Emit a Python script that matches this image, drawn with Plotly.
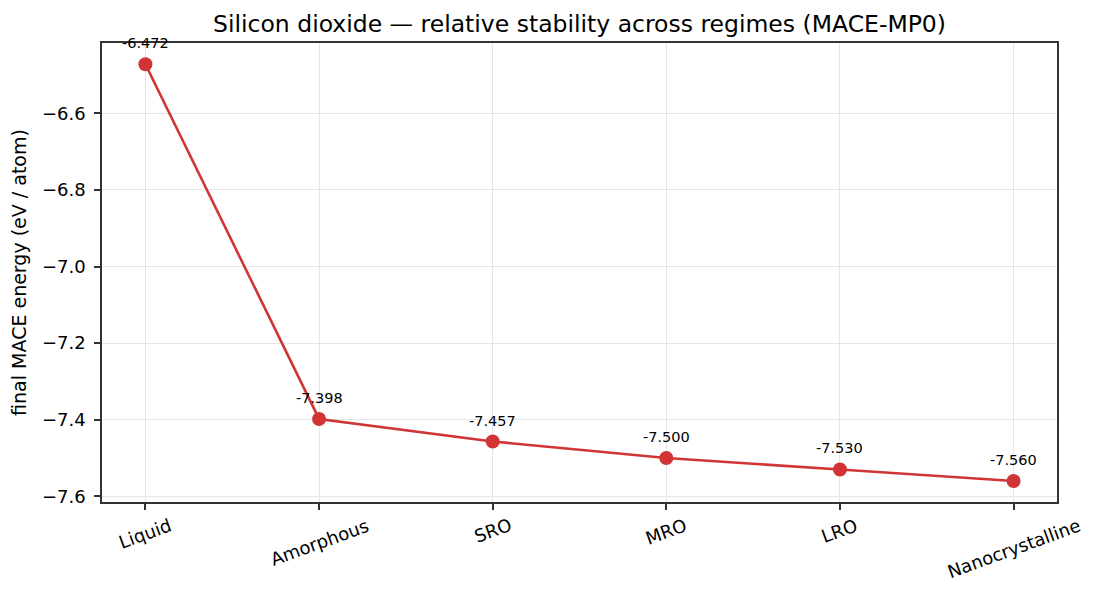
import plotly.graph_objects as go

categories = ["Liquid", "Amorphous", "SRO", "MRO", "LRO", "Nanocrystalline"]
energies = [-6.472, -7.398, -7.457, -7.500, -7.530, -7.560]
y_ticks = [-6.6, -6.8, -7.0, -7.2, -7.4, -7.6]

RED = "#d03434"
FONT = "DejaVu Sans, Liberation Sans, sans-serif"

x_idx = list(range(len(categories)))

fig = go.Figure()
fig.add_trace(go.Scatter(
    x=x_idx, y=energies, mode="lines+markers",
    line=dict(color=RED, width=2.6),
    marker=dict(color=RED, size=14),
    showlegend=False, hoverinfo="skip",
))

annotations = []
for i, v in zip(x_idx, energies):
    annotations.append(dict(
        x=i, y=v, xref="x", yref="y", text=f"{v:.3f}", showarrow=False,
        yshift=21, xanchor="center", yanchor="middle",
        font=dict(family=FONT, size=14.5, color="black"),
    ))
for i, c in zip(x_idx, categories):
    annotations.append(dict(
        x=i, y=0, xref="x", yref="paper", text=c, showarrow=False,
        textangle=-20, xanchor="center", yanchor="top", yshift=-10,
        font=dict(family=FONT, size=18, color="black"),
    ))

fig.update_layout(
    width=1101, height=599,
    margin=dict(l=102, r=44, t=43, b=97),
    paper_bgcolor="white", plot_bgcolor="white",
    font=dict(family=FONT, size=18, color="black"),
    title=dict(
        text="Silicon dioxide — relative stability across regimes (MACE-MP0)",
        x=(102 + 1057) / 2 / 1101, xanchor="center",
        y=1 - 24 / 599, yanchor="middle",
        font=dict(family=FONT, size=23.5, color="black"),
    ),
    annotations=annotations,
)
fig.update_xaxes(
    range=[-0.25, 5.25], tickvals=x_idx, showticklabels=False,
    ticks="outside", ticklen=6, tickwidth=1.5, tickcolor="#333333",
    showgrid=True, gridcolor="#e6e6e6", gridwidth=1.2,
    showline=True, linecolor="#333333", linewidth=1.5, mirror=True,
    zeroline=False,
)
fig.update_yaxes(
    range=[-7.6149, -6.4164], tickvals=y_ticks, tickformat=".1f",
    ticks="outside", ticklen=6, tickwidth=1.5, tickcolor="#333333",
    tickfont=dict(family=FONT, size=18, color="black"),
    ticklabelstandoff=5,
    showgrid=True, gridcolor="#e6e6e6", gridwidth=1.2,
    showline=True, linecolor="#333333", linewidth=1.5, mirror=True,
    zeroline=False,
    title=dict(text="final MACE energy (eV / atom)", standoff=10,
               font=dict(family=FONT, size=19, color="black")),
)

fig.write_html("out.html")
